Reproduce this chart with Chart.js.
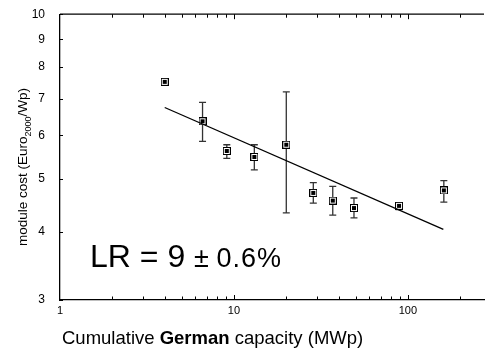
<!DOCTYPE html>
<html>
<head>
<meta charset="utf-8">
<script src="https://cdn.jsdelivr.net/npm/chart.js@4"></script>
<style>
  body { margin: 0; background: #fff; }
  canvas { display: block; }
</style>
</head>
<body>
<canvas id="chart" width="489" height="352"></canvas>
<script>
// cumulative capacity (MWp) and module cost (Euro2000/Wp)
const capacity = [4, 6.6, 9.1, 13.1, 20, 28.6, 37, 49, 89, 161];
const cost = [7.52, 6.37, 5.62, 5.48, 5.77, 4.71, 4.56, 4.42, 4.46, 4.76];
const costHigh = [null, 6.90, 5.77, 5.77, 7.21, 4.92, 4.84, 4.61, 4.50, 4.96];
const costLow = [null, 5.85, 5.45, 5.19, 4.33, 4.51, 4.29, 4.24, 4.39, 4.53];

// fitted experience curve
const fitCapacity = [4, 160];
const fitCost = [6.75, 4.04];

const xTickLabels = [1, 10, 100];
const yTickLabels = [3, 4, 5, 6, 7, 8, 9, 10];

// square marker: black outline, white ring, black centre
const marker = document.createElement('canvas');
marker.width = 8;
marker.height = 8;
const mctx = marker.getContext('2d');
mctx.fillStyle = '#000';
mctx.fillRect(0, 0, 8, 8);
mctx.fillStyle = '#fff';
mctx.fillRect(1, 1, 6, 6);
mctx.fillStyle = '#000';
mctx.fillRect(2, 2, 4, 4);

const errorBars = {
    id: 'errorBars',
    beforeDatasetsDraw(chart) {
        const ctx = chart.ctx;
        const x = chart.scales.x;
        const y = chart.scales.y;
        ctx.save();
        ctx.strokeStyle = '#333';
        ctx.lineWidth = 1.3;
        capacity.forEach((c, i) => {
            if (costHigh[i] == null) return;
            const px = x.getPixelForValue(c);
            const top = y.getPixelForValue(costHigh[i]);
            const bot = y.getPixelForValue(costLow[i]);
            ctx.beginPath();
            ctx.moveTo(px, top);
            ctx.lineTo(px, bot);
            ctx.moveTo(px - 3.5, top);
            ctx.lineTo(px + 3.5, top);
            ctx.moveTo(px - 3.5, bot);
            ctx.lineTo(px + 3.5, bot);
            ctx.stroke();
        });
        ctx.restore();
    }
};

const frame = {
    id: 'frame',
    afterDraw(chart) {
        const ctx = chart.ctx;
        const area = chart.chartArea;
        const x = chart.scales.x;
        const y = chart.scales.y;
        ctx.save();
        ctx.strokeStyle = '#000';
        ctx.lineWidth = 1.3;

        // top line
        ctx.beginPath();
        ctx.moveTo(area.left, area.top);
        ctx.lineTo(area.right, area.top);
        ctx.stroke();

        // log ticks on bottom and top
        ctx.lineWidth = 1;
        ctx.beginPath();
        for (let d = 1; d <= 100; d *= 10) {
            for (let m = 1; m <= 9; m++) {
                const v = d * m;
                if (v <= 1 || v > x.max) continue;
                const px = Math.round(x.getPixelForValue(v)) + 0.5;
                const len = m === 1 ? 5 : 3.5;
                ctx.moveTo(px, area.bottom);
                ctx.lineTo(px, area.bottom - len);
                ctx.moveTo(px, area.top);
                ctx.lineTo(px, area.top + len);
            }
        }
        yTickLabels.forEach(v => {
            const py = Math.round(y.getPixelForValue(v)) + 0.5;
            ctx.moveTo(area.left, py);
            ctx.lineTo(area.left + 3, py);
        });
        ctx.stroke();

        ctx.fillStyle = '#000';
        ctx.textBaseline = 'alphabetic';

        // learning rate note
        ctx.textAlign = 'left';
        ctx.font = '32px Arial, "Liberation Sans", sans-serif';
        let tx = 90;
        ctx.fillText('LR = 9 ', tx, 267);
        tx += ctx.measureText('LR = 9 ').width;
        ctx.font = '27px Arial, "Liberation Sans", sans-serif';
        ctx.fillText('\u00b1 ', tx, 267);
        tx += ctx.measureText('\u00b1 ').width;
        ctx.letterSpacing = '1px';
        ctx.fillText('0.6%', tx, 267);
        ctx.letterSpacing = '0px';

        // x axis title with bold word
        const parts = [
            ['Cumulative ', ''],
            ['German', 'bold '],
            [' capacity (MWp)', '']
        ];
        tx = 62;
        parts.forEach(([t, w]) => {
            ctx.font = w + '18.5px Arial, "Liberation Sans", sans-serif';
            ctx.fillText(t, tx, 344);
            tx += ctx.measureText(t).width;
        });

        // y axis title with subscript
        ctx.translate(27, 167);
        ctx.rotate(-Math.PI / 2);
        const big = '13.5px Arial, "Liberation Sans", sans-serif';
        const small = '9px Arial, "Liberation Sans", sans-serif';
        const segs = [['module cost (Euro', big, 0], ['2000', small, 4], ['/Wp)', big, 0]];
        let total = 0;
        segs.forEach(([t, f]) => { ctx.font = f; total += ctx.measureText(t).width; });
        let sx = -total / 2;
        segs.forEach(([t, f, dy]) => {
            ctx.font = f;
            ctx.fillText(t, sx, dy);
            sx += ctx.measureText(t).width;
        });
        ctx.restore();
    }
};

new Chart(document.getElementById('chart'), {
    type: 'scatter',
    data: {
        datasets: [
            {
                label: 'fit',
                type: 'line',
                data: fitCapacity.map((c, i) => ({ x: c, y: fitCost[i] })),
                borderColor: '#000',
                borderWidth: 1.3,
                pointRadius: 0,
                fill: false,
                tension: 0
            },
            {
                label: 'module cost',
                data: capacity.map((c, i) => ({ x: c, y: cost[i] })),
                pointStyle: marker,
                pointRadius: 4
            }
        ]
    },
    options: {
        responsive: false,
        devicePixelRatio: 1,
        animation: false,
        layout: { padding: { top: 13, right: 0, left: 0, bottom: 0 } },
        plugins: {
            legend: { display: false },
            tooltip: { enabled: false }
        },
        scales: {
            x: {
                type: 'logarithmic',
                min: 1,
                max: 274,
                afterBuildTicks: axis => { axis.ticks = xTickLabels.map(v => ({ value: v })); },
                afterFit: axis => { axis.height = 52; },
                ticks: {
                    callback: v => String(v),
                    color: '#000',
                    padding: -4,
                    maxRotation: 0,
                    font: { family: 'Arial, "Liberation Sans", sans-serif', size: 11 }
                },
                grid: { display: false },
                border: { display: true, color: '#000', width: 1.3 }
            },
            y: {
                type: 'logarithmic',
                min: 3,
                max: 10,
                afterBuildTicks: axis => { axis.ticks = yTickLabels.map(v => ({ value: v })); },
                afterFit: axis => { axis.width = 60; },
                ticks: {
                    callback: v => String(v),
                    color: '#000',
                    padding: 7,
                    font: { family: 'Arial, "Liberation Sans", sans-serif', size: 12 }
                },
                grid: { display: false },
                border: { display: true, color: '#000', width: 1.3 }
            }
        }
    },
    plugins: [errorBars, frame]
});
</script>
</body>
</html>
